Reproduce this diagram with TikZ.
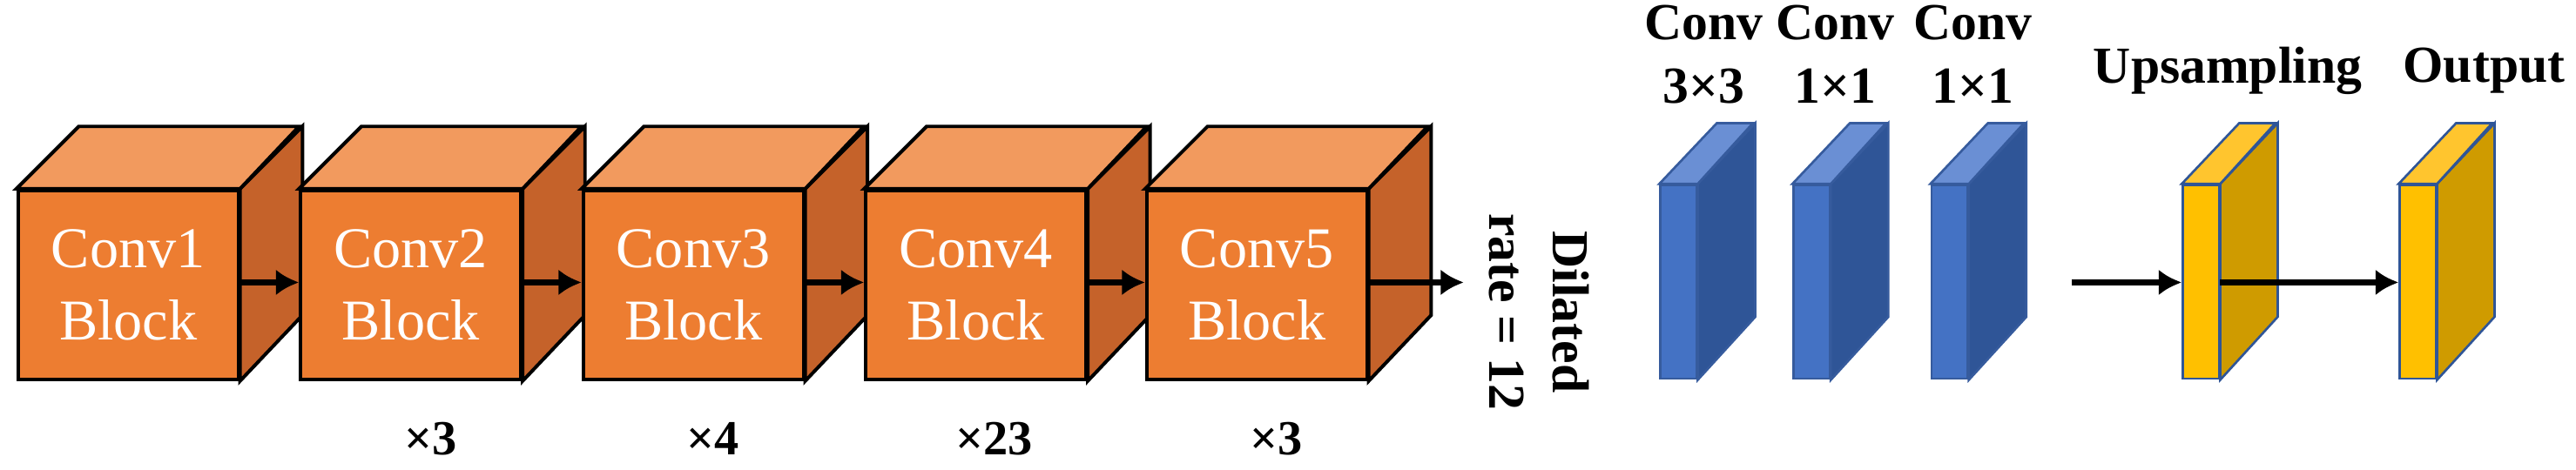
\documentclass[tikz,border=0pt]{standalone}
\usepackage{fontspec}
\setmainfont{Liberation Serif}
\usetikzlibrary{positioning,arrows.meta,calc}

\definecolor{orfront}{HTML}{ED7D31}
\definecolor{ortop}{HTML}{F29A5E}
\definecolor{orside}{HTML}{C5622A}
\definecolor{blfront}{HTML}{4472C4}
\definecolor{bltop}{HTML}{6A8FD4}
\definecolor{blside}{HTML}{2F5597}
\definecolor{yefront}{HTML}{FFC000}
\definecolor{yetop}{HTML}{FFC52E}
\definecolor{yeside}{HTML}{CF9B00}

\tikzset{
  cubefront/.style={draw=black, line width=1.2pt, fill=orfront, text=white,
    minimum width=2.68cm, minimum height=2.3cm, inner sep=0pt,
    anchor=north west, align=center, font=\fontsize{20}{25}\selectfont},
  slabfront/.style={draw=#1, line width=0.8pt, minimum width=0.44cm,
    minimum height=2.36cm, inner sep=0pt, anchor=north west},
  arr/.style={line width=2pt, -{Latex[length=8pt,width=9pt]}},
  lab/.style={font=\bfseries\fontsize{18}{22}\selectfont, align=center},
  mult/.style={font=\bfseries\fontsize{17}{20}\selectfont}
}

% orange block: name, x, label
\newcommand{\convcube}[3]{
  \node[cubefront] (#1) at (#2,115) {#3};
  \draw[line width=1.2pt, fill=orside] (#1.north east) -- ++(38,-38)
    -- ++(0,115) -- (#1.south east) -- cycle;
  \draw[line width=1.2pt, fill=ortop] (#1.north west) -- ++(38,-38)
    -- ++(134,0) -- (#1.north east) -- cycle;
}
% thin slab: name, x, front, top, side, border
\newcommand{\featslab}[6]{
  \node[slabfront=#6, fill=#3] (#1) at (#2,112) {};
  \draw[line width=0.8pt, draw=#6, fill=#5] (#1.north east) -- ++(35,-37)
    -- ++(0,118) -- (#1.south east) -- cycle;
  \draw[line width=0.8pt, draw=#6, fill=#4] (#1.north west) -- ++(35,-37)
    -- ++(22,0) -- (#1.north east) -- cycle;
}

\begin{document}
\begin{tikzpicture}[x=0.02cm, y=-0.02cm]
  \useasboundingbox (0,0) rectangle (1568,286);

  % backbone
  \convcube{c1}{10}{Conv1\\Block}
  \convcube{c2}{182}{Conv2\\Block}
  \convcube{c3}{354}{Conv3\\Block}
  \convcube{c4}{526}{Conv4\\Block}
  \convcube{c5}{697}{Conv5\\Block}
  \foreach \a/\b in {c1/c2, c2/c3, c3/c4, c4/c5}
    \draw[arr] (\a.east |- 0,172) -- (\b.west |- 0,172);
  \coordinate (d5) at (891,172);
  \draw[arr] (c5.east |- 0,172) -- (d5);

  \node[mult] (m2) at (262,267) {×3};
  \node[mult] (m3) at (434,267) {×4};
  \node[mult] (m4) at (605,267) {×23};
  \node[mult] (m5) at (777,267) {×3};

  \node[lab, rotate=-90] (dil) at (937,190) {Dilated\\rate = 12};

  % head
  \featslab{b1}{1010}{blfront}{bltop}{blside}{blfront!80!black}
  \featslab{b2}{1091}{blfront}{bltop}{blside}{blfront!80!black}
  \featslab{b3}{1175}{blfront}{bltop}{blside}{blfront!80!black}
  \node[lab] (l1) at (1037,33) {Conv\\3×3};
  \node[lab] (l2) at (1117,33) {Conv\\1×1};
  \node[lab] (l3) at (1201,33) {Conv\\1×1};

  \featslab{y1}{1328}{yefront}{yetop}{yeside}{blside}
  \featslab{y2}{1460}{yefront}{yetop}{yeside}{blside}
  \node[lab] (l4) at (1356,43) {Upsampling};
  \node[lab] (l5) at (1512,43) {Output};

  \coordinate (u0) at (1261,172);
  \draw[arr] (u0) -- (y1.west |- 0,172);
  \draw[arr] (y1.east |- 0,172) -- (y2.west |- 0,172);
\end{tikzpicture}
\end{document}
